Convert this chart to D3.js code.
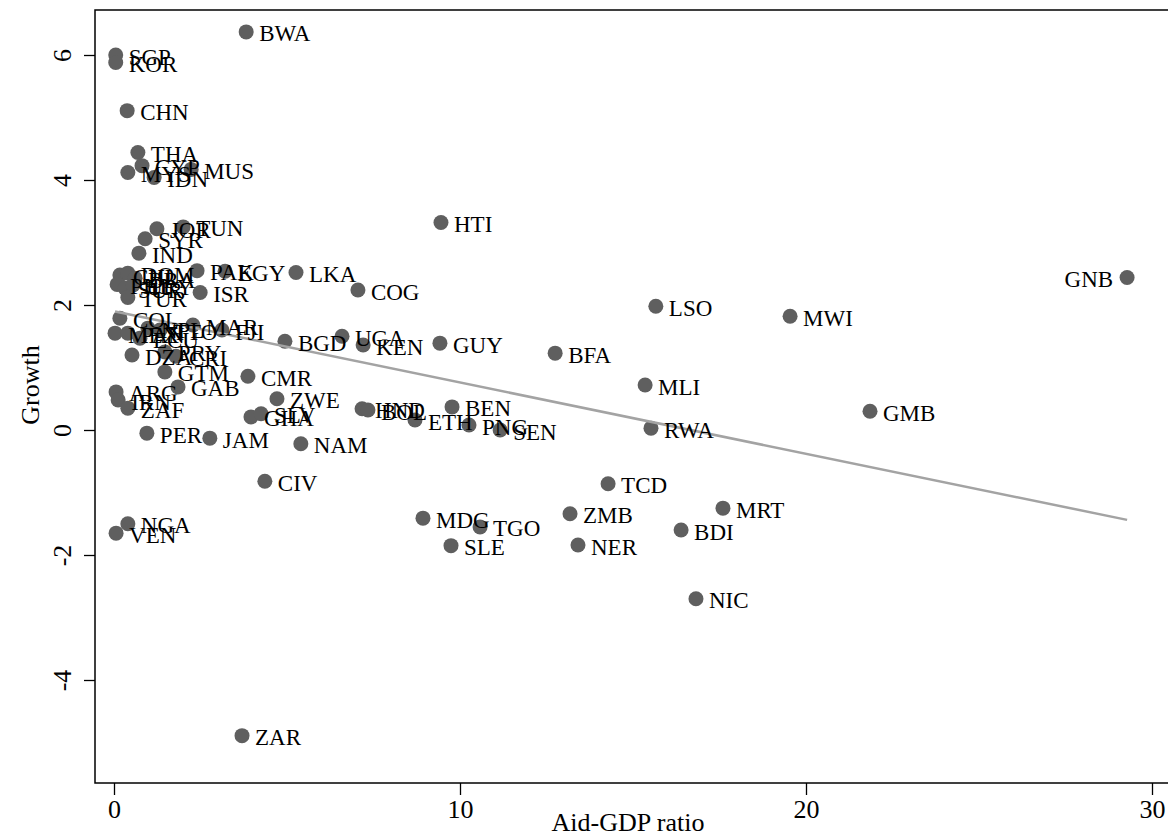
<!DOCTYPE html>
<html>
<head>
<meta charset="utf-8">
<script src="https://cdn.jsdelivr.net/npm/d3@7"></script>
<style>
  body { margin: 0; background: #fff; }
  svg text { font-family: "Liberation Serif", "Times New Roman", serif; fill: #000; }
</style>
</head>
<body>
<div class="container"></div>
<script>
var countries = ["BWA","SGP","KOR","CHN","THA","CYP","MYS","IDN","MUS","JOR","TUN","SYR","IND",
  "PAK","EGY","LKA","HTI","COG","ISR","CHL","DOM","BRA","PHL","SUR","URY","TUR",
  "COL","ECU","MEX","PAN","NPL","MAR","FJI","TTO","DZA","PRY","CRI","GTM","GAB","CMR",
  "ARG","IRN","ZAF","PER","JAM","NAM","CIV","NGA","VEN","ZWE","GHA","SLV",
  "BGD","UGA","KEN","GUY","BFA","HND","BOL","ETH","BEN","PNG","SEN",
  "LSO","MWI","GNB","MLI","GMB","RWA","TCD","MRT","BDI","ZMB","NER","MDG","TGO","SLE","NIC","ZAR"];
var aidGdp = [3.82,0.05,0.05,0.38,0.69,0.81,0.40,1.16,2.23,1.24,2.00,0.90,0.72,
  2.40,3.21,5.26,9.45,7.05,2.49,0.17,0.40,0.61,0.09,0.32,0.55,0.40,
  0.17,0.75,0.03,0.40,0.98,2.28,3.12,1.33,0.52,1.47,1.79,1.47,1.85,3.87,
  0.06,0.12,0.40,0.95,2.77,5.40,4.36,0.40,0.06,4.71,3.96,4.25,
  4.94,6.59,7.20,9.42,12.75,7.17,7.34,8.70,9.77,10.26,11.16,
  15.66,19.54,29.28,15.35,21.85,15.52,14.28,17.60,16.39,13.18,13.41,8.93,10.58,9.74,16.82,3.70];
var growth = [6.37,6.00,5.88,5.11,4.44,4.23,4.12,4.04,4.17,3.22,3.25,3.06,2.83,
  2.55,2.54,2.52,3.32,2.24,2.20,2.48,2.51,2.43,2.33,2.27,2.32,2.12,
  1.79,1.47,1.55,1.55,1.63,1.68,1.60,1.60,1.20,1.25,1.18,0.93,0.69,0.86,
  0.61,0.48,0.35,-0.05,-0.13,-0.22,-0.82,-1.50,-1.65,0.50,0.21,0.26,
  1.42,1.50,1.36,1.39,1.23,0.34,0.32,0.16,0.37,0.08,0.00,
  1.98,1.82,2.44,0.72,0.30,0.03,-0.86,-1.25,-1.60,-1.34,-1.84,-1.41,-1.55,-1.85,-2.70,-4.89];
var leftLabels = ["GNB"];
var xTicks = [0, 10, 20, 30];
var yTicks = [-4, -2, 0, 2, 4, 6];
// fitted line
var fitIntercept = 1.90, fitSlope = -0.114;

var W = 1168, H = 838;
var frame = { left: 95, top: 10, right: 1185, bottom: 783 };

var svg = d3.select(".container").append("svg")
  .attr("width", W).attr("height", H);

var x = d3.scaleLinear().domain([0, 30]).range([114, 1152]);
var y = d3.scaleLinear().domain([-4, 6]).range([680, 55]);

svg.append("rect")
  .attr("x", frame.left).attr("y", frame.top)
  .attr("width", frame.right - frame.left).attr("height", frame.bottom - frame.top)
  .attr("fill", "none").attr("stroke", "#000").attr("stroke-width", 1.5);

var xAxis = svg.append("g")
  .attr("transform", "translate(0," + frame.bottom + ")")
  .call(d3.axisBottom(x).tickValues(xTicks).tickSize(12).tickPadding(5).tickFormat(d => String(d)));
xAxis.select(".domain").remove();
xAxis.selectAll("line").attr("stroke", "#000").attr("stroke-width", 1.3);
xAxis.selectAll("text").style("font-size", "26px").style("font-family", "Liberation Serif");

var yAxis = svg.append("g")
  .attr("transform", "translate(" + frame.left + ",0)")
  .call(d3.axisLeft(y).tickValues(yTicks).tickSize(11).tickFormat(d => String(d)));
yAxis.select(".domain").remove();
yAxis.selectAll("line").attr("stroke", "#000").attr("stroke-width", 1.3);
yAxis.selectAll("text")
  .attr("x", null).attr("dy", null)
  .attr("text-anchor", "middle")
  .attr("dominant-baseline", "central")
  .attr("transform", "translate(-33,0) rotate(-90)")
  .style("font-size", "26px").style("font-family", "Liberation Serif");

svg.append("text")
  .attr("x", 628).attr("y", 831)
  .attr("text-anchor", "middle")
  .style("font-size", "26px")
  .text("Aid-GDP ratio");

svg.append("text")
  .attr("transform", "translate(30," + 385 + ") rotate(-90)")
  .attr("text-anchor", "middle")
  .attr("dominant-baseline", "central")
  .style("font-size", "26px")
  .text("Growth");

var pts = countries.map((c, i) => ({ c: c, a: aidGdp[i], g: growth[i] }));

svg.append("g").selectAll("circle")
  .data(pts).enter().append("circle")
  .attr("cx", d => x(d.a))
  .attr("cy", d => y(d.g))
  .attr("r", 7.5)
  .attr("fill", "#5f5f5f");

var aMin = d3.min(aidGdp), aMax = d3.max(aidGdp);
svg.append("line")
  .attr("x1", x(aMin)).attr("y1", y(fitIntercept + fitSlope * aMin))
  .attr("x2", x(aMax)).attr("y2", y(fitIntercept + fitSlope * aMax))
  .attr("stroke", "#a3a3a3").attr("stroke-width", 2.5);

svg.append("g").selectAll("text")
  .data(pts).enter().append("text")
  .attr("x", d => leftLabels.includes(d.c) ? x(d.a) - 14 : x(d.a) + 13)
  .attr("y", d => y(d.g) + 2)
  .attr("text-anchor", d => leftLabels.includes(d.c) ? "end" : "start")
  .attr("dominant-baseline", "central")
  .style("font-size", "23px")
  .text(d => d.c);
</script>
</body>
</html>
